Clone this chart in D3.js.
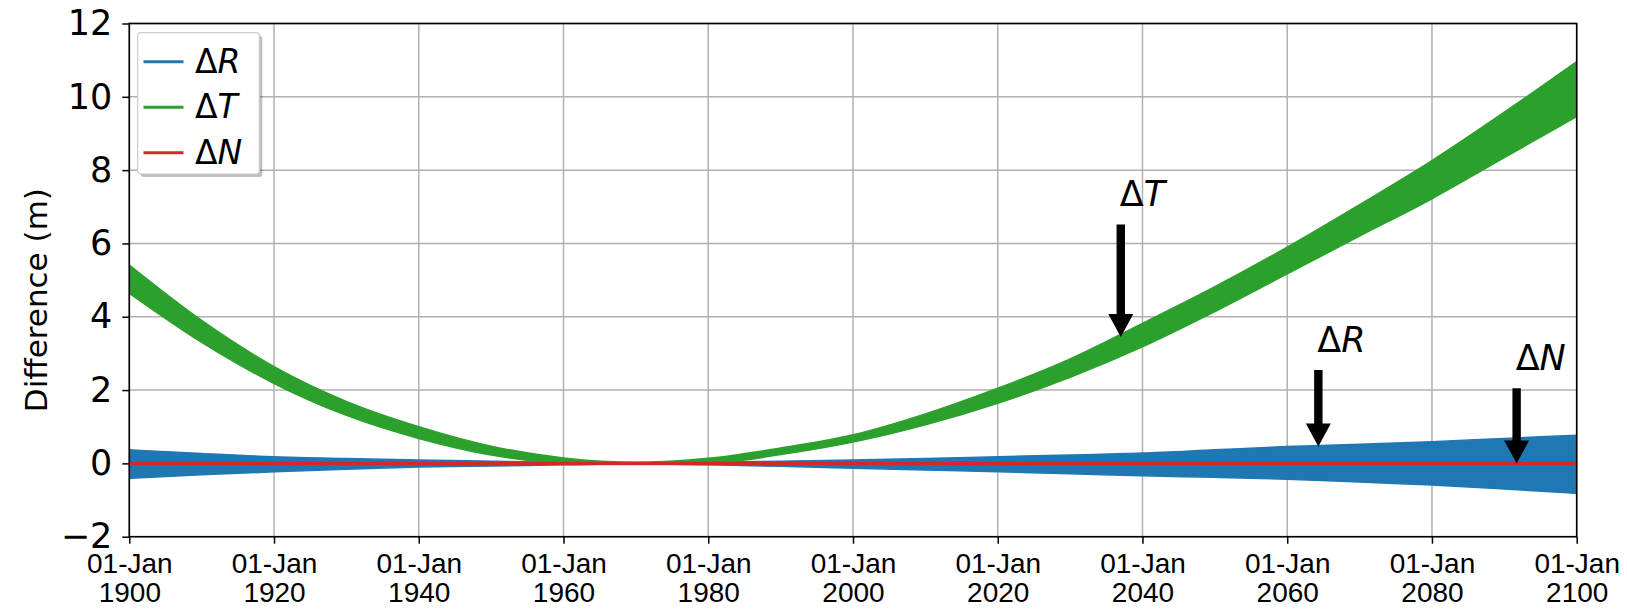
<!DOCTYPE html>
<html>
<head>
<meta charset="utf-8">
<script src="https://cdn.jsdelivr.net/npm/d3@7"></script>
<style>
  html, body { margin: 0; padding: 0; background: #fff; }
  svg { display: block; font-family: "DejaVu Sans", sans-serif; }
</style>
</head>
<body>
<svg id="chart" width="1627" height="609"></svg>
<script>
// Sample years for the envelopes of each difference component
const years = [1900, 1910, 1920, 1930, 1940, 1950, 1960, 1970, 1980, 1990, 2000,
               2010, 2020, 2030, 2040, 2050, 2060, 2070, 2080, 2090, 2100];

// Along-track difference ΔT (m): upper and lower envelope of the oscillation
const tUpper = [5.41, 3.90, 2.64, 1.69, 1.00, 0.47, 0.15, 0.03, 0.14, 0.42, 0.78,
                1.35, 2.05, 2.85, 3.82, 4.82, 5.90, 7.06, 8.26, 9.58, 10.96];
const tLower = [4.64, 3.30, 2.18, 1.31, 0.68, 0.23, 0.01, -0.02, 0.00, 0.24, 0.58,
                1.05, 1.64, 2.35, 3.18, 4.14, 5.17, 6.20, 7.22, 8.34, 9.46];

// Radial difference ΔR (m): upper and lower envelope
const rUpper = [0.37, 0.27, 0.18, 0.13, 0.09, 0.06, 0.03, 0.01, 0.03, 0.06, 0.09,
                0.13, 0.18, 0.23, 0.28, 0.37, 0.46, 0.52, 0.59, 0.68, 0.77];
const rLower = [-0.41, -0.31, -0.23, -0.16, -0.10, -0.07, -0.04, -0.01, -0.04, -0.08, -0.13,
                -0.18, -0.23, -0.28, -0.34, -0.38, -0.43, -0.51, -0.59, -0.70, -0.82];

// Normal difference ΔN (m)
const nValues = [0, 0, 0, 0, 0, 0, 0, 0, 0, 0, 0,
                 0, 0, 0, 0, 0, 0, 0, 0, 0, 0];

// Axis ticks
const xTickYears = [1900, 1920, 1940, 1960, 1980, 2000, 2020, 2040, 2060, 2080, 2100];
const yTicks = [-2, 0, 2, 4, 6, 8, 10, 12];

// Series labels and colours
const seriesLetters = ["R", "T", "N"];
const seriesColors = ["#1f77b4", "#2ca02c", "#d62728"];

// Arrow annotations: letter, year (fractional), arrow tip value, arrow tail value
const annoLetters = ["T", "R", "N"];
const annoYears = [2037.0, 2064.3, 2091.7];
const annoTips = [3.45, 0.46, 0.0];
const annoTails = [6.52, 2.55, 2.05];

const W = 1627, H = 609;
const margin = { left: 129.3, right: 50.3, top: 23.5, bottom: 72.3 };
const svg = d3.select("#chart");

const toDate = y => {
  const yr = Math.floor(y);
  const start = new Date(yr, 0, 1), end = new Date(yr + 1, 0, 1);
  return new Date(+start + (y - yr) * (end - start));
};

const x = d3.scaleTime()
  .domain([new Date(1900, 0, 1), new Date(2100, 0, 1)])
  .range([margin.left, W - margin.right]);
const y = d3.scaleLinear()
  .domain([-2, 12])
  .range([H - margin.bottom, margin.top]);

const fmtDay = d3.timeFormat("%d-%b");
const fmtYear = d3.timeFormat("%Y");

// Grid
const grid = svg.append("g");
grid.selectAll("line.vx").data(xTickYears).join("line")
  .attr("x1", d => x(new Date(d, 0, 1))).attr("x2", d => x(new Date(d, 0, 1)))
  .attr("y1", margin.top).attr("y2", H - margin.bottom)
  .attr("stroke", "#b0b0b0").attr("stroke-width", 1.5);
grid.selectAll("line.hy").data(yTicks).join("line")
  .attr("x1", margin.left).attr("x2", W - margin.right)
  .attr("y1", d => y(d)).attr("y2", d => y(d))
  .attr("stroke", "#b0b0b0").attr("stroke-width", 1.5);

// Clip to plot area
svg.append("clipPath").attr("id", "plotClip").append("rect")
  .attr("x", margin.left).attr("y", margin.top)
  .attr("width", W - margin.left - margin.right)
  .attr("height", H - margin.top - margin.bottom);

const plot = svg.append("g").attr("clip-path", "url(#plotClip)");

const band = (up, lo) => d3.area()
  .x((d, i) => x(new Date(years[i], 0, 1)))
  .y0((d, i) => y(lo[i]))
  .y1((d, i) => y(up[i]))
  .curve(d3.curveMonotoneX)(years);

// ΔR band
plot.append("path").attr("d", band(rUpper, rLower))
  .attr("fill", seriesColors[0]).attr("stroke", seriesColors[0]).attr("stroke-width", 1.5);
// ΔT band
plot.append("path").attr("d", band(tUpper, tLower))
  .attr("fill", seriesColors[1]).attr("stroke", seriesColors[1]).attr("stroke-width", 1.5);
// ΔN line
plot.append("path")
  .attr("d", d3.line()
    .x((d, i) => x(new Date(years[i], 0, 1)))
    .y(d => y(d))(nValues))
  .attr("fill", "none").attr("stroke", seriesColors[2]).attr("stroke-width", 3.5);

// Axes
const xAxis = d3.axisBottom(x)
  .tickValues(xTickYears.map(d => new Date(d, 0, 1)))
  .tickSize(7).tickPadding(5).tickFormat("");
const gx = svg.append("g").attr("transform", `translate(0,${H - margin.bottom})`).call(xAxis);
gx.select(".domain").remove();
gx.selectAll(".tick line").attr("stroke", "#000").attr("stroke-width", 1.5);
gx.selectAll(".tick").each(function(d) {
  const t = d3.select(this).append("text")
    .attr("fill", "#000").attr("text-anchor", "middle")
    .style("font-size", "28px");
  t.append("tspan").attr("x", 0).attr("y", 36.5).text(fmtDay(d));
  t.append("tspan").attr("x", 0).attr("y", 65.5).text(fmtYear(d));
});

const yAxis = d3.axisLeft(y).tickValues(yTicks).tickSize(7).tickPadding(10)
  .tickFormat(d => d < 0 ? "\u2212" + Math.abs(d) : d);
const gy = svg.append("g").attr("transform", `translate(${margin.left},0)`).call(yAxis);
gy.select(".domain").remove();
gy.selectAll(".tick line").attr("stroke", "#000").attr("stroke-width", 1.5);
gy.selectAll(".tick text").attr("fill", "#000")
  .style("font-size", "35px").style("font-family", "DejaVu Sans");

// Frame
svg.append("rect")
  .attr("x", margin.left).attr("y", margin.top)
  .attr("width", W - margin.left - margin.right)
  .attr("height", H - margin.top - margin.bottom)
  .attr("fill", "none").attr("stroke", "#000").attr("stroke-width", 1.6);

// Y label
svg.append("text")
  .attr("transform", `translate(36,${(margin.top + H - margin.bottom) / 2 + 20}) rotate(-90)`)
  .attr("text-anchor", "middle").attr("dominant-baseline", "central")
  .style("font-size", "31px").attr("fill", "#000")
  .text("Difference (m)");

// Arrow annotations
const shaftHalf = 4.2, headHalf = 12.5, headLen = 23;
annoLetters.forEach((letter, i) => {
  const ax = x(toDate(annoYears[i]));
  const tipY = y(annoTips[i]);
  const tailY = y(annoTails[i]);
  const baseY = tipY - headLen;
  const pts = [
    [ax - shaftHalf, tailY], [ax + shaftHalf, tailY], [ax + shaftHalf, baseY],
    [ax + headHalf, baseY], [ax, tipY], [ax - headHalf, baseY], [ax - shaftHalf, baseY]
  ];
  svg.append("path").attr("d", "M" + pts.map(p => p.join(",")).join("L") + "Z")
    .attr("fill", "#000");
  const t = svg.append("text")
    .attr("x", ax - 1).attr("y", tailY - 18)
    .style("font-size", "35px").attr("fill", "#000");
  t.append("tspan").text("\u0394");
  t.append("tspan").style("font-style", "italic").text(letter);
});

// Legend
const lg = svg.append("g");
const lx = 137.7, ly = 32.7, lw = 121.6, lh = 141.3;
lg.append("rect").attr("x", lx + 3).attr("y", ly + 3).attr("width", lw).attr("height", lh)
  .attr("rx", 3).attr("fill", "#000").attr("opacity", 0.25);
lg.append("rect").attr("x", lx).attr("y", ly).attr("width", lw).attr("height", lh)
  .attr("rx", 3).attr("fill", "#fff").attr("stroke", "#cccccc").attr("stroke-width", 1.2);
seriesLetters.forEach((letter, i) => {
  const yy = 61.7 + i * 45.5;
  lg.append("line").attr("x1", 143.5).attr("x2", 183.5).attr("y1", yy).attr("y2", yy)
    .attr("stroke", seriesColors[i]).attr("stroke-width", 3);
  const t = lg.append("text").attr("x", 195).attr("y", yy + 11)
    .style("font-size", "33px").attr("fill", "#000");
  t.append("tspan").text("\u0394");
  t.append("tspan").style("font-style", "italic").text(letter);
});
</script>
</body>
</html>
